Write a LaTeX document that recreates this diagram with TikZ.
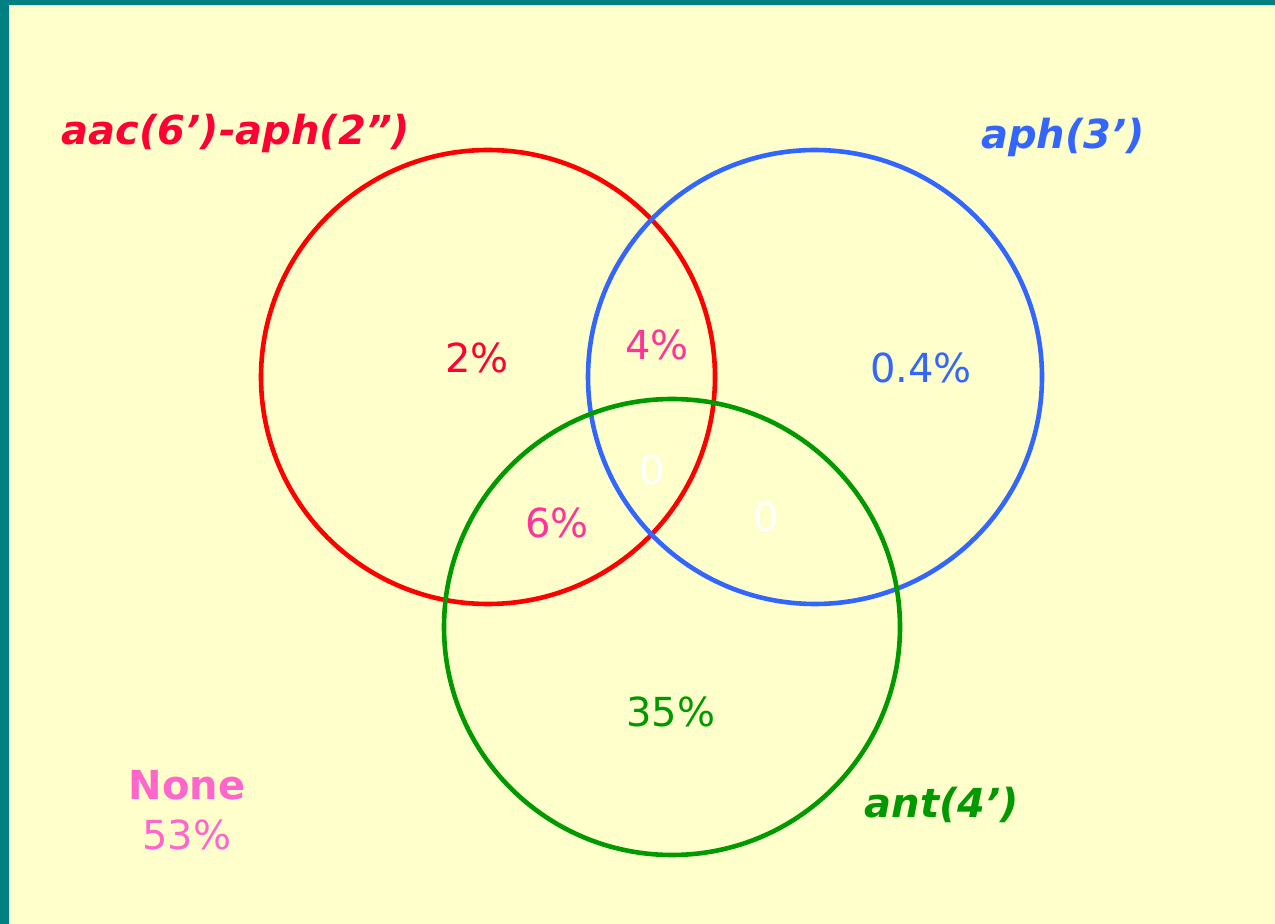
\documentclass[tikz,border=0pt]{standalone}
\usepackage{fontspec}
\setmainfont{DejaVu Sans}
\usepackage{tikz}
\usetikzlibrary{positioning}
\definecolor{frame}{HTML}{008080}
\definecolor{paper}{HTML}{FFFFCC}
\definecolor{setred}{HTML}{FF0000}
\definecolor{labred}{HTML}{FF0033}
\definecolor{setblue}{HTML}{3366FF}
\definecolor{setgreen}{HTML}{009900}
\definecolor{mixpink}{HTML}{FF3399}
\definecolor{nonepink}{HTML}{FF66CC}

\begin{document}
\begin{tikzpicture}[
  x=0.5pt,y=-0.5pt,
  ring/.style={line width=2.3pt},
  setname/.style={font=\fontsize{20}{24}\selectfont\bfseries\itshape},
  share/.style={font=\fontsize{20}{24}\selectfont}
]
  \useasboundingbox (0,0) rectangle (1275,924);
  \fill[frame] (0,0) rectangle (1275,924);
  \fill[paper,draw=cyan!25,line width=0.5pt] (9,6) rectangle (1280,930);
  % the three sets
  \draw[ring,setred] (488,377) circle (227);
  \draw[ring,setblue] (815,377) circle (227);
  \draw[ring,setgreen] (672,627) circle (228);
  \node[setname,text=labred] (aac) at (236,133) {aac(6’)-aph(2”)};
  \node[setname,text=setblue] (aph) at (1063,137) {aph(3’)};
  \node[setname,text=setgreen] (ant) at (942,805) {ant(4’)};
  % shares
  \node[share,text=labred] (onlyaac) at (477,358) {2\%};
  \node[share,text=mixpink] (aacaph) at (657,345) {4\%};
  \node[share,text=setblue] (onlyaph) at (921,368) {0.4\%};
  \node[share,text=white] (all) at (652,470) {0};
  \node[share,text=white] (aphant) at (766,517) {0};
  \node[share,text=mixpink] (aacant) at (557,523) {6\%};
  \node[share,text=setgreen] (onlyant) at (671,712) {35\%};
  \node[setname,font=\fontsize{20}{24}\selectfont\bfseries,text=nonepink] (none) at (187,785) {None};
  \node[share,text=nonepink,below=3pt of none] (nonepct) {53\%};
\end{tikzpicture}
\end{document}
